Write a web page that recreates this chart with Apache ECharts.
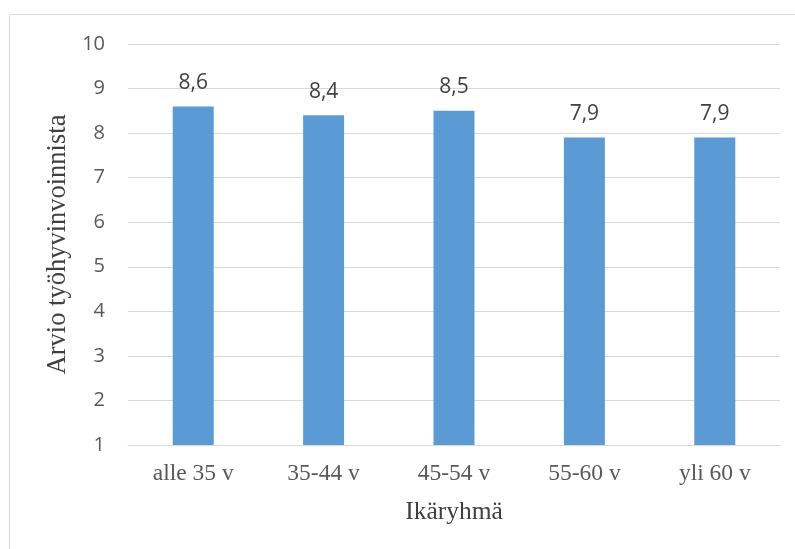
<!DOCTYPE html>
<html><head><meta charset="utf-8">
<script src="https://cdn.jsdelivr.net/npm/echarts@6/dist/echarts.min.js"></script>
<style>html,body{margin:0;padding:0;background:#fff}#c{width:795px;height:549px}</style>
</head><body><div id="c"></div>
<script>
const categories = ['alle 35 v', '35-44 v', '45-54 v', '55-60 v', 'yli 60 v'];
const values = [8.6, 8.4, 8.5, 7.9, 7.9];
const yTitle = 'Arvio työhyvinvoinnista';
const xTitle = 'Ikäryhmä';

const chart = echarts.init(document.getElementById('c'), null, {renderer: 'canvas'});
chart.setOption({
  animation: false,
  graphic: [{type: 'rect', shape: {x: 9.5, y: 14.5, width: 800, height: 600}, style: {fill: 'none', stroke: '#d9d9d9', lineWidth: 1}, silent: true}],
  grid: {left: 128, right: 15, top: 44, bottom: 104, containLabel: false},
  xAxis: {
    type: 'category', data: categories,
    axisLine: {show: true, lineStyle: {color: '#d9d9d9', width: 1}},
    axisTick: {show: false},
    axisLabel: {fontFamily: 'Liberation Serif', fontSize: 23.5, color: '#595959', margin: 17},
    name: xTitle, nameLocation: 'middle', nameGap: 54,
    nameTextStyle: {fontFamily: 'Liberation Serif', fontSize: 25.5, color: '#404040'}
  },
  yAxis: {
    type: 'value', min: 1, max: 10, interval: 1,
    axisLine: {show: false}, axisTick: {show: false},
    splitLine: {lineStyle: {color: '#d9d9d9', width: 1}},
    axisLabel: {fontFamily: 'Open Sans', fontSize: 20, color: '#595959', margin: 23},
    name: yTitle, nameLocation: 'middle', nameRotate: 90, nameGap: 50,
    nameTextStyle: {fontFamily: 'Liberation Serif', fontSize: 26.5, color: '#404040'}
  },
  series: [{
    type: 'bar', data: values, barWidth: 41,
    itemStyle: {color: '#5b9bd5'},
    label: {show: true, position: 'top', distance: 13, fontFamily: 'Open Sans', fontSize: 21, color: '#404040',
      formatter: p => String(p.value).replace('.', ',')}
  }]
});
</script></body></html>
